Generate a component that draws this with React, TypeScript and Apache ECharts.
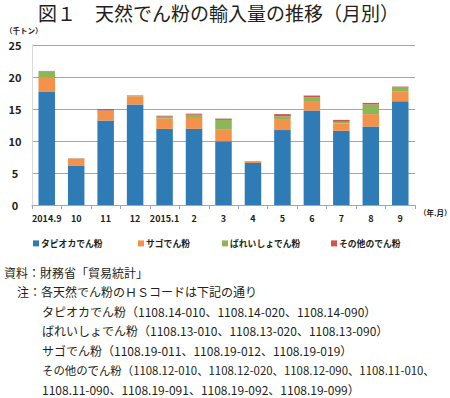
import React, { useEffect, useRef } from "react";
import * as echarts from "echarts";

const categories = ["2014.9", "10", "11", "12", "2015.1", "2", "3", "4", "5", "6", "7", "8", "9"];
const seriesNames = ["タピオカでん粉", "サゴでん粉", "ばれいしょでん粉", "その他のでん粉"];
const tapioca = [17.65, 6.1, 13.2, 15.7, 11.9, 11.9, 9.95, 6.55, 11.7, 14.75, 11.6, 12.25, 16.2];
const sago = [2.3, 1.1, 1.5, 1.3, 1.6, 1.7, 1.9, 0.25, 1.6, 1.5, 1.15, 1.95, 1.5];
const potato = [0.95, 0.05, 0.05, 0.05, 0.3, 0.5, 1.45, 0.02, 0.55, 0.55, 0.25, 1.5, 0.65];
const other = [0.05, 0.05, 0.25, 0.05, 0.15, 0.17, 0.2, 0.05, 0.35, 0.3, 0.3, 0.25, 0.15];
const yTicks = [0, 5, 10, 15, 20, 25];

const titleText = "図１　天然でん粉の輸入量の推移（月別）";
const yUnit = "（千トン）";
const xUnit = "（年.月）";
const noteLines = [
  "資料：財務省「貿易統計」",
  "注：各天然でん粉のＨＳコードは下記の通り",
  "タピオカでん粉（1108.14-010、1108.14-020、1108.14-090）",
  "ばれいしょでん粉（1108.13-010、1108.13-020、1108.13-090）",
  "サゴでん粉（1108.19-011、1108.19-012、1108.19-019）",
  "その他のでん粉（1108.12-010、1108.12-020、1108.12-090、1108.11-010、",
  "1108.11-090、1108.19-091、1108.19-092、1108.19-099）",
];

const FONT = "'Noto Sans CJK JP', 'Noto Sans', sans-serif";
const COLORS = ["#2e7bb6", "#f4924c", "#8bb856", "#d2524d"];

export default function App() {
  const ref = useRef<HTMLDivElement>(null);
  useEffect(() => {
    if (!ref.current) return;
    const chart = echarts.init(ref.current, null, { renderer: "svg" });
    const data = [tapioca, sago, potato, other];
    const legendLefts = [33, 138, 222, 331];
    const noteX = [4, 17, 42, 42, 42, 42, 42];
    const noteSize = [12, 12, 12, 12, 12, 11.4, 12];
    chart.setOption({
      animation: false,
      backgroundColor: "#ffffff",
      textStyle: { fontFamily: FONT },
      grid: { left: 32, right: 35, top: 45, bottom: 193 },
      legend: seriesNames.map((n, i) => ({
        data: [n],
        left: legendLefts[i],
        top: 239,
        icon: "rect",
        itemWidth: 6,
        itemHeight: 6,
        padding: 0,
        textStyle: { fontSize: 8.8, fontWeight: "bold", color: "#231f20", fontFamily: FONT, padding: [0, 0, 0, -3] },
      })),
      xAxis: {
        type: "category",
        data: categories,
        axisLine: { lineStyle: { color: "#a6a6a6", width: 1 } },
        axisTick: { show: true, alignWithLabel: false, length: 4, lineStyle: { color: "#a6a6a6" } },
        axisLabel: { fontSize: 9, fontWeight: "bold", color: "#231f20", margin: 9, interval: 0, fontFamily: FONT },
      },
      yAxis: {
        type: "value",
        min: 0,
        max: 25,
        interval: 5,
        axisLine: { show: true, lineStyle: { color: "#d9d9d9" } },
        axisTick: { show: false },
        splitLine: { lineStyle: { color: "#a6a6a6", width: 1 } },
        axisLabel: {
          fontSize: 11,
          fontWeight: "bold",
          color: "#231f20",
          align: "center",
          margin: 17,
          fontFamily: FONT,
          formatter: (v: number) => (yTicks.includes(v) ? String(v) : ""),
        },
      },
      series: seriesNames.map((n, i) => ({
        name: n,
        type: "bar",
        stack: "total",
        barWidth: "56%",
        data: data[i],
        itemStyle: { color: COLORS[i] },
      })),
      graphic: [
        {
          type: "text",
          x: 38,
          y: 12.5,
          style: {
            text: titleText,
            fontSize: 19,
            lineHeight: 20,
            fontFamily: FONT,
            fill: "#231f20",
            textVerticalAlign: "middle",
          },
        },
        {
          type: "text",
          x: 5,
          y: 30,
          style: { text: yUnit, fontSize: 7.5, fontWeight: "bold", fontFamily: FONT, fill: "#231f20", textVerticalAlign: "middle" },
        },
        {
          type: "text",
          x: 419,
          y: 212,
          style: { text: xUnit, fontSize: 7.5, fontWeight: "bold", fontFamily: FONT, fill: "#231f20", textVerticalAlign: "middle" },
        },
        ...noteLines.map((t, i) => ({
          type: "text",
          x: noteX[i],
          y: 272 + i * 19.6,
          style: { text: t, fontSize: noteSize[i], fontFamily: FONT, fill: "#231f20", textVerticalAlign: "middle" },
        })),
      ],
    });
    return () => chart.dispose();
  }, []);
  return (
    <div
      ref={ref}
      style={{ position: "fixed", left: 0, top: 0, width: 450, height: 398, background: "#fff" }}
    />
  );
}
